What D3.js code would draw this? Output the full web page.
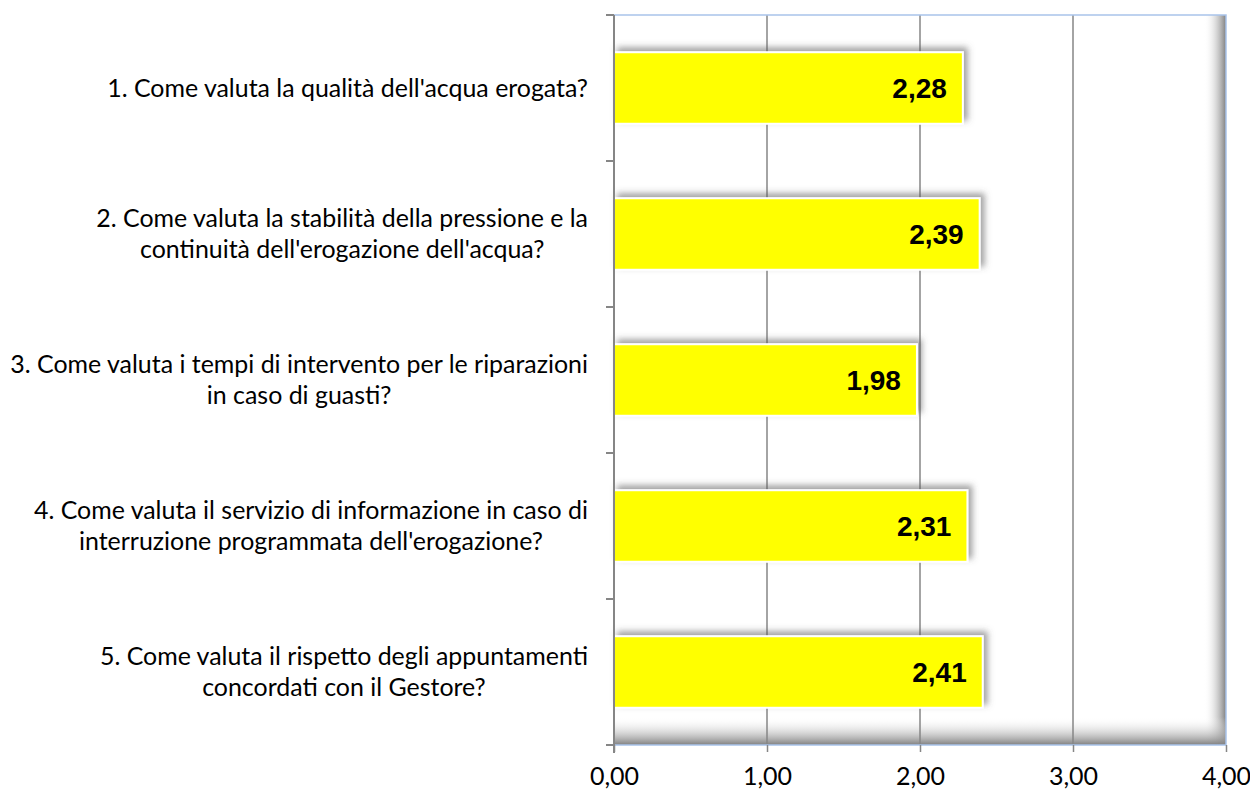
<!DOCTYPE html>
<html><head><meta charset="utf-8">
<script src="https://cdn.jsdelivr.net/npm/d3@7"></script>
<style>html,body{margin:0;padding:0;background:#fff;}</style>
</head><body>
<svg id="chart" width="1250" height="789"></svg>
<script>
const categories = [
  ["1. Come valuta la qualità dell'acqua erogata?"],
  ["2. Come valuta la stabilità della pressione e la", "continuità dell'erogazione dell'acqua?"],
  ["3. Come valuta i tempi di intervento per le riparazioni", "in caso di guasti?"],
  ["4. Come valuta il servizio di informazione in caso di", "interruzione programmata dell'erogazione?"],
  ["5. Come valuta il rispetto degli appuntamenti", "concordati con il Gestore?"]
];
const values = [2.28, 2.39, 1.98, 2.31, 2.41];
const xTicks = [0, 1, 2, 3, 4];
const xTickLabels = ["0,00", "1,00", "2,00", "3,00", "4,00"];
const valueLabels = ["2,28", "2,39", "1,98", "2,31", "2,41"];

const svg = d3.select("#chart");
const m = {left: 614, top: 15, right: 24, bottom: 44};
const W = 1250, H = 789;
const pw = W - m.left - m.right, ph = H - m.top - m.bottom;

const x = d3.scaleLinear().domain([0, 4]).range([0, pw]);
const y = d3.scaleBand().domain(d3.range(categories.length)).range([0, ph]).paddingInner(0.51).paddingOuter(0.255);

const defs = svg.append("defs");
const gr = defs.append("linearGradient").attr("id", "gR").attr("x1", 0).attr("x2", 1).attr("y1", 0).attr("y2", 0);
gr.append("stop").attr("offset", "0%").attr("stop-color", "#fff").attr("stop-opacity", 0);
gr.append("stop").attr("offset", "100%").attr("stop-color", "#808080").attr("stop-opacity", 1);
const gb = defs.append("linearGradient").attr("id", "gB").attr("x1", 0).attr("x2", 0).attr("y1", 0).attr("y2", 1);
gb.append("stop").attr("offset", "0%").attr("stop-color", "#fff").attr("stop-opacity", 0);
gb.append("stop").attr("offset", "100%").attr("stop-color", "#808080").attr("stop-opacity", 1);
const f = defs.append("filter").attr("id", "sh").attr("x", "-10%").attr("y", "-30%").attr("width", "130%").attr("height", "160%");
f.append("feDropShadow").attr("dx", 4).attr("dy", -4).attr("stdDeviation", 3).attr("flood-color", "#555").attr("flood-opacity", 0.55);

const g = svg.append("g").attr("transform", `translate(${m.left},${m.top})`);

// inner shadow of plot area
g.append("rect").attr("x", pw - 22).attr("y", 0).attr("width", 22).attr("height", ph).attr("fill", "url(#gR)");
g.append("rect").attr("x", 0).attr("y", ph - 28).attr("width", pw).attr("height", 28).attr("fill", "url(#gB)");

// gridlines
g.append("g").selectAll("line").data(xTicks.filter(t => t > 0 && t < 4)).join("line")
  .attr("x1", d => x(d)).attr("x2", d => x(d)).attr("y1", 0).attr("y2", ph)
  .attr("stroke", "#868686").attr("stroke-width", 1.5);

// border (top, right, bottom)
g.append("path").attr("d", `M0,0H${pw}V${ph}H0`).attr("fill", "none").attr("stroke", "#a9c4ea").attr("stroke-width", 1.5);

// bars
g.append("g").selectAll("rect").data(values).join("rect")
  .attr("x", 0).attr("y", (d, i) => y(i)).attr("width", d => x(d)).attr("height", y.bandwidth())
  .attr("fill", "#ffff00").attr("stroke", "#fff").attr("stroke-width", 2)
  .attr("filter", "url(#sh)");

// value labels
g.append("g").selectAll("text").data(values).join("text")
  .attr("x", d => x(d) - 16).attr("y", (d, i) => y(i) + y.bandwidth() / 2).attr("dy", "0.36em")
  .attr("text-anchor", "end")
  .attr("font-family", "Liberation Sans, Arial, sans-serif").attr("font-weight", "bold").attr("font-size", 28)
  .attr("fill", "#000").text((d, i) => valueLabels[i]);

// y axis
const bandStep = ph / categories.length;
const ya = g.append("g");
ya.append("line").attr("x1", 0).attr("x2", 0).attr("y1", 0).attr("y2", ph + 8).attr("stroke", "#868686").attr("stroke-width", 2);
ya.selectAll("line.t").data(d3.range(categories.length + 1)).join("line").attr("class", "t")
  .attr("x1", -8).attr("x2", 0).attr("y1", d => d * bandStep).attr("y2", d => d * bandStep)
  .attr("stroke", "#868686").attr("stroke-width", 2);

// x axis
const xa = g.append("g").attr("transform", `translate(0,${ph})`)
  .call(d3.axisBottom(x).tickValues(xTicks).tickSize(7).tickPadding(15).tickFormat((d, i) => xTickLabels[i]));
xa.select(".domain").remove();
xa.selectAll(".tick line").attr("stroke", "#868686").attr("stroke-width", 1.5);
xa.selectAll(".tick text").attr("font-family", "Lato, 'Open Sans', sans-serif").attr("font-size", 25).attr("fill", "#000");

// category labels
const fontFam = "Lato, 'Open Sans', sans-serif";
const probe = svg.append("text").attr("font-family", fontFam).attr("font-size", 24)
  .text(categories[2][0]);
const wProbe = probe.node().getComputedTextLength();
probe.remove();
const catSize = 24 * 578 / wProbe;
const lineH = 31;
const rightEdge = 588;
const cl = svg.append("g");
categories.forEach((lines, i) => {
  const t = cl.append("text").attr("font-family", fontFam).attr("font-size", catSize).attr("fill", "#000").attr("text-anchor", "middle");
  const cy = m.top + y(i) + y.bandwidth() / 2;
  const n = lines.length;
  const ts = lines.map((s, k) => t.append("tspan").attr("y", cy + (k - (n - 1) / 2) * lineH).attr("dy", "0.36em").text(s));
  const maxW = d3.max(ts, s => s.node().getComputedTextLength());
  const cx = rightEdge - maxW / 2;
  ts.forEach(s => s.attr("x", cx));
});
</script>
</body></html>
